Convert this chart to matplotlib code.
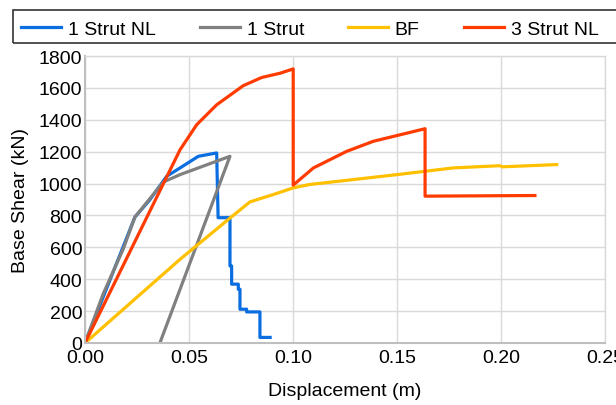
import matplotlib.pyplot as plt
from matplotlib.patches import Rectangle

plt.rcParams['font.family'] = ['Liberation Sans', 'DejaVu Sans']
plt.rcParams['font.size'] = 14

# --- data ---
strut1_nl_x = [0, 0.024, 0.031, 0.0393, 0.0457, 0.0545, 0.0633, 0.064, 0.0697, 0.0697,
               0.0705, 0.0705, 0.0737, 0.0737, 0.0745, 0.0745, 0.0777, 0.0777,
               0.0841, 0.0841, 0.089]
strut1_nl_y = [0, 790, 895, 1046, 1098, 1171, 1192, 786, 786, 483,
               483, 369, 369, 337, 337, 212, 212, 195,
               195, 35, 35]

strut1_x = [0, 0.0088, 0.0184, 0.024, 0.0377, 0.0457, 0.0697, 0.036]
strut1_y = [0, 310, 590, 790, 1010, 1056, 1171, 0]

bf_x = [0, 0.0457, 0.0689, 0.0793, 0.0905, 0.1001, 0.108, 0.150, 0.177, 0.1995, 0.2005, 0.2268]
bf_y = [0, 525, 775, 885, 931, 973, 994, 1056, 1098, 1112, 1105, 1119]

strut3_nl_x = [0, 0.0457, 0.0537, 0.0633, 0.0761, 0.0849, 0.0938, 0.1001, 0.1001,
               0.1098, 0.1258, 0.1386, 0.1635, 0.1635, 0.2163]
strut3_nl_y = [0, 1212, 1369, 1494, 1614, 1665, 1692, 1719, 990,
               1098, 1202, 1265, 1344, 921, 925]

x_ticks = [0.00, 0.05, 0.10, 0.15, 0.20, 0.25]
y_ticks = list(range(0, 1801, 200))

fig = plt.figure(figsize=(6.16, 4.06), dpi=100)
ax = fig.add_axes([85 / 616, 1 - 344 / 406, 520 / 616, 287 / 406])

lw = 2.3
ax.plot(strut1_nl_x, strut1_nl_y, color='#0a6ee0', lw=lw, label='1 Strut NL')
ax.plot(strut1_x, strut1_y, color='#808080', lw=lw, label='1 Strut')
ax.plot(bf_x, bf_y, color='#ffc000', lw=lw, label='BF')
ax.plot(strut3_nl_x, strut3_nl_y, color='#ff3b00', lw=lw, label='3 Strut NL')

ax.set_xlim(0, 0.25)
ax.set_ylim(0, 1800)
ax.set_xticks(x_ticks)
ax.set_xticklabels([f'{v:.2f}' for v in x_ticks])
ax.set_yticks(y_ticks)
ax.tick_params(length=0)
ax.tick_params(axis='x', pad=4)
ax.tick_params(axis='y', pad=2)
ax.grid(True, color='#d9d9d9', lw=1)
ax.set_axisbelow(True)
for side in ['top', 'right']:
    ax.spines[side].set_color('#d9d9d9')
    ax.spines[side].set_linewidth(1)
for side in ['left', 'bottom']:
    ax.spines[side].set_color('#bfbfbf')
    ax.spines[side].set_linewidth(1.5)

ax.set_xlabel('Displacement (m)')
ax.set_ylabel('Base Shear (kN)')
ax.xaxis.set_label_coords(0.5, -0.135)
ax.yaxis.set_label_coords(-0.108, 0.5)

# legend across the top, frame runs off the right edge
fig.patches.append(Rectangle((12.5 / 616, 1 - 43.5 / 406), 620 / 616, 33 / 406,
                             transform=fig.transFigure, fill=False,
                             edgecolor='#333333', lw=1.2))
fig.legend(loc='center left', bbox_to_anchor=(21 / 616, 1 - 30 / 406), ncol=4,
           frameon=False, handlelength=2.05, handletextpad=0.36,
           columnspacing=2.26, borderpad=0, borderaxespad=0)

fig.savefig('out.png', dpi=100)
